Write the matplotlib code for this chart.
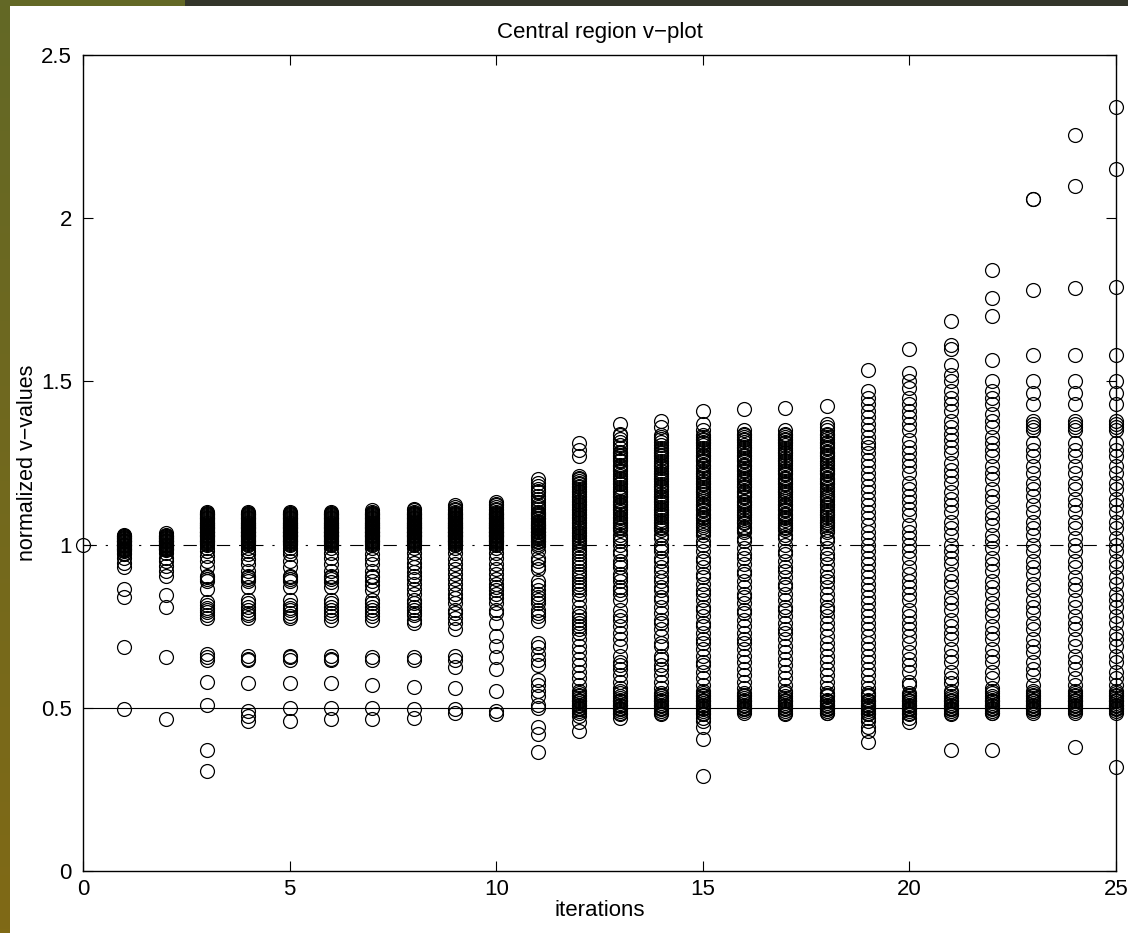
import numpy as np
import matplotlib
matplotlib.use("Agg")
import matplotlib.pyplot as plt

plt.rcParams['font.family'] = ['Liberation Sans', 'DejaVu Sans']

# normalized v-values per iteration
v0 = [1.0]
v1 = [1.03, 1.025, 1.02, 1.015, 1.01, 1.005, 1.0, 0.995, 0.99, 0.985, 0.98, 0.975,
      0.97, 0.96, 0.945, 0.93, 0.865, 0.84, 0.685, 0.495]
v2 = [1.035, 1.03, 1.025, 1.02, 1.015, 1.01, 1.005, 1.0, 0.995, 0.99, 0.985, 0.975,
      0.96, 0.95, 0.935, 0.92, 0.905, 0.845, 0.81, 0.655, 0.465]
v3 = [1.10, 1.095, 1.09, 1.085, 1.08, 1.075, 1.07, 1.065, 1.06, 1.055, 1.05, 1.045,
      1.04, 1.035, 1.03, 1.025, 1.02, 1.015, 1.01, 1.005, 1.0, 0.99, 0.98, 0.965,
      0.95, 0.93, 0.905, 0.9, 0.895, 0.89, 0.865, 0.825, 0.815, 0.805, 0.8, 0.795,
      0.785, 0.775, 0.665, 0.655, 0.645, 0.58, 0.51, 0.37, 0.305]
v4 = [1.10, 1.095, 1.09, 1.085, 1.08, 1.075, 1.07, 1.065, 1.06, 1.055, 1.05, 1.045,
      1.04, 1.035, 1.03, 1.025, 1.02, 1.015, 1.01, 1.005, 1.0, 0.99, 0.98, 0.97,
      0.955, 0.94, 0.92, 0.905, 0.9, 0.895, 0.89, 0.87, 0.83, 0.82, 0.81, 0.80,
      0.79, 0.785, 0.775, 0.66, 0.65, 0.645, 0.575, 0.49, 0.475, 0.46]
v5 = [1.10, 1.095, 1.09, 1.085, 1.08, 1.075, 1.07, 1.065, 1.06, 1.055, 1.05, 1.045,
      1.04, 1.035, 1.03, 1.025, 1.02, 1.015, 1.01, 1.005, 1.0, 0.99, 0.98, 0.97,
      0.95, 0.93, 0.905, 0.9, 0.895, 0.89, 0.87, 0.83, 0.815, 0.805, 0.80, 0.79,
      0.78, 0.775, 0.66, 0.655, 0.645, 0.575, 0.50, 0.46]
v6 = [1.10, 1.095, 1.09, 1.085, 1.08, 1.075, 1.07, 1.065, 1.06, 1.055, 1.05, 1.045,
      1.04, 1.035, 1.03, 1.025, 1.02, 1.015, 1.01, 1.005, 1.0, 0.99, 0.975, 0.96,
      0.94, 0.92, 0.905, 0.9, 0.895, 0.885, 0.87, 0.83, 0.82, 0.81, 0.80, 0.79,
      0.78, 0.77, 0.66, 0.65, 0.645, 0.575, 0.50, 0.465]
v7 = [1.105, 1.10, 1.095, 1.09, 1.085, 1.08, 1.075, 1.07, 1.065, 1.06, 1.055, 1.05,
      1.045, 1.04, 1.035, 1.03, 1.025, 1.02, 1.015, 1.01, 1.005, 1.0, 0.99, 0.97,
      0.955, 0.94, 0.92, 0.905, 0.9, 0.89, 0.875, 0.86, 0.83, 0.82, 0.81, 0.80,
      0.79, 0.78, 0.77, 0.655, 0.645, 0.57, 0.50, 0.465]
v8 = [1.11, 1.105, 1.10, 1.095, 1.09, 1.085, 1.08, 1.075, 1.07, 1.065, 1.06, 1.055,
      1.05, 1.045, 1.04, 1.035, 1.03, 1.025, 1.02, 1.015, 1.01, 1.005, 1.0, 0.99,
      0.975, 0.96, 0.945, 0.93, 0.915, 0.905, 0.895, 0.88, 0.865, 0.85, 0.83, 0.82,
      0.81, 0.80, 0.79, 0.785, 0.77, 0.76, 0.655, 0.645, 0.565, 0.495, 0.47]
v9 = [1.12, 1.115, 1.11, 1.105, 1.10, 1.095, 1.09, 1.085, 1.08, 1.075, 1.07, 1.065,
      1.06, 1.055, 1.05, 1.045, 1.04, 1.035, 1.03, 1.025, 1.02, 1.015, 1.01, 1.005,
      1.0, 0.99, 0.975, 0.955, 0.94, 0.925, 0.91, 0.895, 0.88, 0.865, 0.85, 0.835,
      0.82, 0.80, 0.79, 0.775, 0.76, 0.74, 0.66, 0.645, 0.625, 0.56, 0.495, 0.485]
v10 = [1.13, 1.125, 1.12, 1.115, 1.11, 1.105, 1.10, 1.095, 1.09, 1.085, 1.08, 1.075,
       1.07, 1.065, 1.06, 1.055, 1.05, 1.045, 1.04, 1.035, 1.03, 1.025, 1.02, 1.015,
       1.01, 1.005, 1.0, 0.99, 0.975, 0.96, 0.94, 0.925, 0.91, 0.895, 0.88, 0.87,
       0.86, 0.85, 0.835, 0.82, 0.80, 0.79, 0.76, 0.72, 0.69, 0.655, 0.62, 0.55,
       0.49, 0.48]
v11 = [1.20, 1.19, 1.18, 1.17, 1.165, 1.16, 1.15, 1.14, 1.13, 1.12, 1.115, 1.11,
       1.10, 1.09, 1.08, 1.07, 1.06, 1.05, 1.04, 1.03, 1.02, 1.01, 0.995, 0.98,
       0.96, 0.95, 0.935, 0.925, 0.89, 0.875, 0.86, 0.85, 0.84, 0.83, 0.82, 0.80,
       0.79, 0.78, 0.765, 0.70, 0.685, 0.665, 0.645, 0.63, 0.585, 0.57, 0.55,
       0.535, 0.51, 0.50, 0.44, 0.42, 0.365]
v12 = [1.31, 1.29, 1.27, 1.21, 1.20, 1.19, 1.18, 1.175, 1.17, 1.16, 1.15, 1.14,
       1.135, 1.13, 1.12, 1.11, 1.10, 1.09, 1.085, 1.08, 1.07, 1.06, 1.05, 1.04,
       1.03, 1.02, 1.01, 1.0, 0.99, 0.98, 0.97, 0.96, 0.95, 0.94, 0.93, 0.92, 0.91,
       0.90, 0.89, 0.88, 0.87, 0.86, 0.85, 0.83, 0.81, 0.79, 0.78, 0.77, 0.76,
       0.75, 0.74, 0.73, 0.71, 0.69, 0.67, 0.65, 0.63, 0.61, 0.59, 0.57, 0.55,
       0.54, 0.53, 0.52, 0.51, 0.50, 0.49, 0.475, 0.455, 0.43]
v13 = [1.37, 1.34, 1.28, 1.27, 1.26, 1.24, 1.23, 1.21, 1.20, 1.19, 1.17, 1.16,
       1.15, 1.13, 1.12, 1.11, 1.10, 1.08, 1.07, 1.06, 1.05, 1.03, 1.02, 1.01, 1.0,
       0.98, 0.97, 0.95, 0.94, 0.93, 0.91, 0.90, 0.89, 0.87, 0.86, 0.85, 0.83,
       0.80, 0.78, 0.77, 0.75, 0.73, 0.71, 0.69, 0.66, 0.64, 0.63, 0.62, 0.60,
       0.58, 0.56, 0.55, 0.53, 0.52, 0.51, 0.50, 0.495, 0.49, 0.48, 0.47]
v14 = [1.38, 1.36, 1.33, 1.29, 1.28, 1.27, 1.25, 1.24, 1.22, 1.21, 1.20, 1.18,
       1.17, 1.15, 1.14, 1.13, 1.11, 1.10, 1.09, 1.07, 1.06, 1.05, 1.03, 1.02, 1.0,
       0.99, 0.98, 0.96, 0.95, 0.93, 0.92, 0.90, 0.89, 0.87, 0.86, 0.84, 0.83,
       0.81, 0.79, 0.77, 0.76, 0.74, 0.72, 0.70, 0.69, 0.66, 0.65, 0.63, 0.62,
       0.60, 0.58, 0.56, 0.54, 0.53, 0.52, 0.51, 0.50, 0.49, 0.48]
v15 = [1.41, 1.37, 1.35, 1.33, 1.32, 1.31, 1.29, 1.27, 1.26, 1.24, 1.22, 1.21,
       1.19, 1.17, 1.16, 1.14, 1.12, 1.11, 1.09, 1.08, 1.06, 1.04, 1.03, 1.01, 1.0,
       0.98, 0.96, 0.95, 0.93, 0.91, 0.90, 0.88, 0.86, 0.85, 0.83, 0.81, 0.80,
       0.78, 0.76, 0.75, 0.73, 0.71, 0.70, 0.68, 0.66, 0.64, 0.63, 0.61, 0.59,
       0.57, 0.55, 0.54, 0.53, 0.52, 0.51, 0.50, 0.49, 0.48, 0.47, 0.46, 0.44,
       0.405, 0.29]
v16 = [1.415, 1.35, 1.34, 1.33, 1.32, 1.30, 1.29, 1.27, 1.26, 1.24, 1.23, 1.21,
       1.20, 1.18, 1.16, 1.15, 1.13, 1.12, 1.10, 1.09, 1.07, 1.05, 1.04, 1.02, 1.01,
       0.99, 0.97, 0.96, 0.94, 0.92, 0.91, 0.89, 0.87, 0.85, 0.84, 0.82, 0.80,
       0.79, 0.77, 0.75, 0.73, 0.71, 0.70, 0.68, 0.66, 0.64, 0.62, 0.60, 0.58,
       0.56, 0.54, 0.53, 0.52, 0.51, 0.50, 0.495, 0.49]
v17 = [1.42, 1.35, 1.34, 1.33, 1.32, 1.31, 1.29, 1.28, 1.26, 1.25, 1.23, 1.22,
       1.20, 1.19, 1.17, 1.16, 1.14, 1.12, 1.11, 1.09, 1.08, 1.06, 1.05, 1.03, 1.02,
       1.0, 0.98, 0.97, 0.95, 0.93, 0.92, 0.90, 0.88, 0.87, 0.85, 0.83, 0.81, 0.80,
       0.78, 0.76, 0.74, 0.73, 0.71, 0.69, 0.67, 0.65, 0.63, 0.61, 0.59, 0.57,
       0.55, 0.53, 0.52, 0.51, 0.50, 0.49, 0.48]
v18 = [1.425, 1.37, 1.36, 1.35, 1.34, 1.33, 1.31, 1.30, 1.28, 1.27, 1.25, 1.23,
       1.22, 1.20, 1.19, 1.17, 1.15, 1.14, 1.12, 1.10, 1.09, 1.07, 1.06, 1.04, 1.02,
       1.01, 0.99, 0.97, 0.96, 0.94, 0.92, 0.90, 0.89, 0.87, 0.85, 0.83, 0.81,
       0.80, 0.78, 0.76, 0.74, 0.72, 0.70, 0.68, 0.66, 0.64, 0.62, 0.60, 0.58,
       0.56, 0.54, 0.52, 0.51, 0.50, 0.495, 0.49, 0.485]
v19 = [1.535, 1.47, 1.45, 1.43, 1.41, 1.39, 1.37, 1.35, 1.33, 1.31, 1.30, 1.28,
       1.26, 1.24, 1.22, 1.20, 1.18, 1.16, 1.14, 1.12, 1.10, 1.08, 1.06, 1.04, 1.02,
       1.0, 0.98, 0.96, 0.94, 0.92, 0.90, 0.88, 0.86, 0.84, 0.82, 0.80, 0.78, 0.76,
       0.74, 0.72, 0.70, 0.68, 0.66, 0.64, 0.62, 0.60, 0.58, 0.56, 0.54, 0.52,
       0.51, 0.50, 0.49, 0.48, 0.47, 0.46, 0.44, 0.43, 0.395]
v20 = [1.60, 1.525, 1.50, 1.48, 1.45, 1.43, 1.41, 1.39, 1.37, 1.35, 1.32, 1.30,
       1.28, 1.26, 1.24, 1.22, 1.19, 1.17, 1.15, 1.13, 1.11, 1.09, 1.06, 1.04, 1.02,
       1.0, 0.98, 0.96, 0.93, 0.91, 0.89, 0.87, 0.85, 0.83, 0.80, 0.78, 0.76, 0.74,
       0.72, 0.70, 0.67, 0.65, 0.63, 0.61, 0.58, 0.57, 0.54, 0.53, 0.52, 0.51,
       0.50, 0.495, 0.49, 0.48, 0.47, 0.455]
v21 = [1.685, 1.61, 1.60, 1.55, 1.52, 1.50, 1.47, 1.45, 1.43, 1.41, 1.38, 1.36,
       1.34, 1.32, 1.30, 1.28, 1.25, 1.23, 1.21, 1.19, 1.16, 1.14, 1.12, 1.10, 1.07,
       1.05, 1.03, 1.0, 0.98, 0.96, 0.94, 0.91, 0.89, 0.87, 0.84, 0.82, 0.80, 0.77,
       0.75, 0.73, 0.71, 0.68, 0.66, 0.64, 0.61, 0.59, 0.575, 0.55, 0.53, 0.52,
       0.51, 0.50, 0.495, 0.49, 0.48, 0.37]
v22 = [1.84, 1.755, 1.70, 1.565, 1.50, 1.47, 1.45, 1.43, 1.40, 1.38, 1.36, 1.33,
       1.31, 1.29, 1.27, 1.24, 1.22, 1.20, 1.17, 1.15, 1.13, 1.10, 1.08, 1.06, 1.03,
       1.01, 0.99, 0.96, 0.94, 0.92, 0.89, 0.87, 0.85, 0.82, 0.80, 0.78, 0.75, 0.73,
       0.71, 0.68, 0.66, 0.64, 0.61, 0.59, 0.56, 0.55, 0.53, 0.52, 0.51, 0.50,
       0.49, 0.485, 0.37]
v23 = [2.06, 2.06, 1.78, 1.58, 1.50, 1.465, 1.43, 1.38, 1.37, 1.36, 1.35, 1.31,
       1.29, 1.27, 1.24, 1.22, 1.19, 1.17, 1.15, 1.12, 1.10, 1.07, 1.05, 1.03, 1.0,
       0.98, 0.95, 0.93, 0.91, 0.88, 0.86, 0.83, 0.81, 0.79, 0.76, 0.74, 0.71, 0.69,
       0.67, 0.64, 0.62, 0.60, 0.57, 0.55, 0.54, 0.53, 0.52, 0.51, 0.50, 0.495, 0.49]
v24 = [2.255, 2.10, 1.785, 1.58, 1.50, 1.465, 1.43, 1.38, 1.37, 1.36, 1.35, 1.31,
       1.29, 1.27, 1.24, 1.22, 1.19, 1.17, 1.14, 1.12, 1.10, 1.07, 1.05, 1.02, 1.0,
       0.98, 0.95, 0.93, 0.90, 0.88, 0.86, 0.83, 0.81, 0.78, 0.76, 0.74, 0.71, 0.69,
       0.66, 0.64, 0.62, 0.59, 0.57, 0.55, 0.54, 0.53, 0.52, 0.51, 0.50, 0.49, 0.38]
v25 = [2.34, 2.15, 1.79, 1.58, 1.50, 1.465, 1.43, 1.38, 1.37, 1.36, 1.35, 1.31,
       1.29, 1.27, 1.24, 1.22, 1.19, 1.17, 1.14, 1.12, 1.10, 1.07, 1.05, 1.02, 1.0,
       0.98, 0.95, 0.93, 0.90, 0.88, 0.85, 0.83, 0.81, 0.78, 0.76, 0.73, 0.71, 0.69,
       0.66, 0.64, 0.61, 0.59, 0.57, 0.55, 0.54, 0.53, 0.52, 0.51, 0.50, 0.49, 0.32]

# extra overlapping points inside the solid-looking clusters
first_fill = [1.0275, 1.0225, 1.0175, 1.0125, 1.0075, 1.0025, 0.9975, 0.9925,
              0.9875, 0.9825, 1.02, 1.01, 1.0]
top_fill = [1.0975, 1.0925, 1.0875, 1.0825, 1.0775, 1.0725, 1.0675, 1.0625, 1.0575,
            1.0525, 1.0475, 1.0425, 1.0375, 1.0325, 1.0275, 1.0225, 1.0175, 1.0125,
            1.0075, 1.0025, 1.06, 1.05, 1.04, 1.03]
it12_fill = [1.205, 1.195, 1.185, 1.165, 1.155, 1.145, 1.125, 1.115, 1.105, 1.095,
             1.075, 1.065, 1.055, 1.045, 1.035, 1.025, 1.015, 1.005]
mid_fill = [1.335, 1.325, 1.315, 1.305, 1.295, 1.285, 1.275, 1.265, 1.255, 1.245,
            1.235, 1.225, 1.215, 1.205, 1.195, 1.185, 1.175, 1.165, 1.155, 1.145,
            1.135, 1.125, 1.115, 1.105, 1.095, 1.085, 1.075, 1.065, 1.055, 1.045]
low_fill = [0.545, 0.535, 0.525, 0.515, 0.505, 0.5, 0.495, 0.485, 0.52, 0.51]

columns = [v0, v1, v2, v3, v4, v5, v6, v7, v8, v9, v10, v11, v12, v13, v14,
           v15, v16, v17, v18, v19, v20, v21, v22, v23, v24, v25]
for c in (v1, v2):
    c += first_fill
for c in (v3, v4, v5, v6, v7, v8, v9, v10, v11):
    c += top_fill
v12 += it12_fill
for c in (v13, v14, v15, v16, v17, v18):
    c += mid_fill
for c in columns[12:]:
    c += low_fill

fig = plt.figure(figsize=(11.28, 9.33), dpi=100)
fig.patch.set_facecolor('white')

# slide-style frame: olive strip on the left, dark bar on top
grad = fig.add_axes([0, 0, 10 / 1128, 1])
top_c = np.array([99, 104, 38]) / 255
bot_c = np.array([128, 106, 22]) / 255
t = np.linspace(0, 1, 256)[:, None, None]
grad.imshow(top_c * (1 - t) + bot_c * t, aspect='auto', extent=[0, 1, 0, 1])
grad.axis('off')
fig.add_artist(plt.Rectangle((0, 1 - 6 / 933), 185 / 1128, 6 / 933,
                             transform=fig.transFigure, color=top_c, lw=0))
fig.add_artist(plt.Rectangle((185 / 1128, 1 - 6 / 933), 1, 6 / 933,
                             transform=fig.transFigure, color='#33352a', lw=0))

ax = fig.add_axes([83 / 1128, 62 / 933, 1033 / 1128, 816 / 933])

ax.axhline(0.5, color='k', lw=0.8)
ax.axhline(1.0, color='k', lw=0.8, linestyle=(0, (12, 8, 2, 8)))

for i, col in enumerate(columns):
    ax.plot([i] * len(col), col, 'o', mfc='none', mec='k', ms=10, mew=0.9,
            clip_on=False)

ax.set_xlim(0, 25)
ax.set_ylim(0, 2.5)
ax.set_xticks([0, 5, 10, 15, 20, 25])
ax.set_yticks([0, 0.5, 1, 1.5, 2, 2.5])
ax.set_yticklabels(['0', '0.5', '1', '1.5', '2', '2.5'])
ax.tick_params(direction='in', length=7, width=0.8, top=True, right=True,
               labelsize=16, pad=6)
ax.tick_params(axis='y', pad=8)
for s in ax.spines.values():
    s.set_linewidth(1.0)

ax.set_title('Central region v\u2212plot', fontsize=16, pad=12)
ax.set_xlabel('iterations', fontsize=16, labelpad=0)
ax.set_ylabel('normalized v\u2212values', fontsize=15.5, labelpad=2)

fig.savefig('out.png', dpi=100)
